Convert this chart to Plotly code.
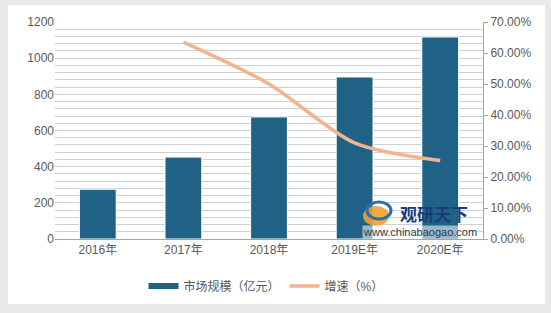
import plotly.graph_objects as go

categories = ["2016年", "2017年", "2018年", "2019E年", "2020E年"]
market_size = [275, 453, 675, 896, 1117]
growth_cats = ["2017年", "2018年", "2019E年", "2020E年"]
growth_rate = [0.635, 0.50, 0.31, 0.253]

L, R, T, B = 55, 68, 22, 74
W, H = 551, 313
pw, ph = W - L - R, H - T - B

def px(x):
    return (x - L) / pw

def py(y):
    return (H - B - y) / ph

BAR_COLOR = "#1f6285"
tick_font = dict(family="Liberation Sans, Noto Sans CJK SC", size=12, color="#595959")

fig = go.Figure()
fig.add_trace(go.Bar(
    x=categories, y=market_size, name="市场规模（亿元）", showlegend=False,
    marker=dict(color=BAR_COLOR, line=dict(color="#ffffff", width=1)),
    width=0.43,
))
# legend entry with a wide flat swatch like the reference
fig.add_trace(go.Scatter(
    x=[None], y=[None], name="市场规模（亿元）", mode="lines",
    line=dict(color=BAR_COLOR, width=6),
))
fig.add_trace(go.Scatter(
    x=growth_cats, y=growth_rate, name="增速（%）", yaxis="y2",
    mode="lines", line=dict(color="#f2b48c", width=3.5, shape="spline", smoothing=0.8),
))

fig.update_layout(
    width=W, height=H,
    margin=dict(l=L, r=R, t=T, b=B),
    paper_bgcolor="#e9e9e9",
    plot_bgcolor="#eef2f6",
    font=tick_font,
    showlegend=True,
    legend=dict(orientation="h", x=px(266), y=py(286), xanchor="center", yanchor="middle",
                bgcolor="#ffffff", font=tick_font, traceorder="normal"),
    xaxis=dict(showline=True, linecolor="#a6a6a6", linewidth=1, ticks="", tickfont=tick_font,
               showgrid=False),
    yaxis=dict(range=[0, 1200], dtick=200, showgrid=True, gridcolor="#c9d0d8", gridwidth=1,
               minor=dict(dtick=40, showgrid=True, gridcolor="#c9d0d8", gridwidth=1),
               zeroline=False, tickfont=tick_font, ticks="", showline=False),
    yaxis2=dict(range=[0, 0.7], dtick=0.1, tickformat=".2%", overlaying="y", side="right",
                showgrid=False, zeroline=False, showline=True, linecolor="#a6a6a6", linewidth=1,
                ticks="outside", ticklen=4, tickcolor="#a6a6a6", tickfont=tick_font),
    shapes=[
        dict(type="rect", xref="paper", yref="paper", x0=px(8), x1=px(545), y0=py(304), y1=py(5),
             fillcolor="#ffffff", line=dict(width=0), layer="below"),
        dict(type="circle", xref="paper", yref="paper", x0=px(363), x1=px(389), y0=py(226), y1=py(206),
             fillcolor="#f0a030", line=dict(width=0), layer="above", opacity=0.9),
        dict(type="circle", xref="paper", yref="paper", x0=px(367), x1=px(391), y0=py(219), y1=py(202),
             fillcolor="rgba(0,0,0,0)", line=dict(color="#2a6fb0", width=3), layer="above"),
    ],
    annotations=[
        dict(text="<b>观研天下</b>", xref="paper", yref="paper", x=px(434), y=py(213),
             xanchor="center", yanchor="middle",
             showarrow=False, font=dict(family="Noto Sans CJK SC", size=17, color="#1a3d78")),
        dict(text="www.chinabaogao.com", xref="paper", yref="paper", x=px(420), y=py(232),
             xanchor="center", yanchor="middle", bgcolor="rgba(255,255,255,0.55)", borderpad=0,
             showarrow=False, font=dict(family="Liberation Sans", size=11, color="#2a3a4a")),
    ],
)

fig.write_html("out.html")
